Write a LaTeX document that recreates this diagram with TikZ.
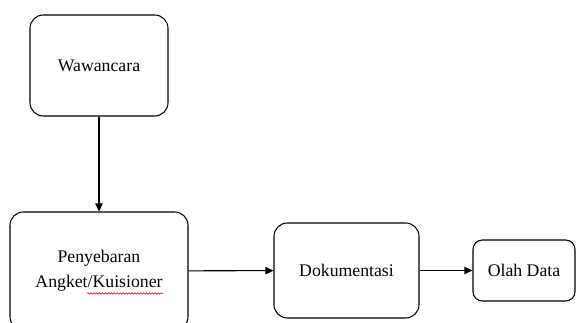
\documentclass[tikz,border=0pt]{standalone}
\usepackage{fontspec}
\setmainfont{Liberation Serif}
\usetikzlibrary{arrows.meta,decorations.pathmorphing}
\tikzset{>={Triangle[length=6pt,width=5.5pt]},
  box/.style={draw,line width=0.8pt,rounded corners=10pt,align=center,
    font=\fontsize{13.3}{18}\selectfont}}

\begin{document}
\begin{tikzpicture}[x=0.75pt,y=-0.75pt]
\useasboundingbox (0,0) rectangle (576,323);
\node[box,minimum width=138*0.75pt,minimum height=101*0.75pt] (W) at (99,65.5) {Wawancara};
\node[box,minimum width=178*0.75pt,minimum height=118*0.75pt] (P) at (99,271) {Penyebaran\\[1pt]Angket/Kuisioner};
\node[box,minimum width=145*0.75pt,minimum height=95*0.75pt] (D) at (346.5,270.5) {Dokumentasi};
\node[box,rounded corners=7pt,minimum width=102*0.75pt,minimum height=61*0.75pt] (O) at (524,270.5) {Olah Data};
\path[->,line width=0.8pt] (W) edge (P);
\path[->,line width=0.8pt] (P) edge (D);
\path[->,line width=0.8pt] (D) edge (O);
% spelling mark
\coordinate (S1) at (87,293.5);
\coordinate (S2) at (163,293.5);
\draw[red!80!black,line width=0.4pt,decorate,decoration={snake,amplitude=0.6pt,segment length=2.2pt}] (S1) -- (S2);
\end{tikzpicture}
\end{document}
